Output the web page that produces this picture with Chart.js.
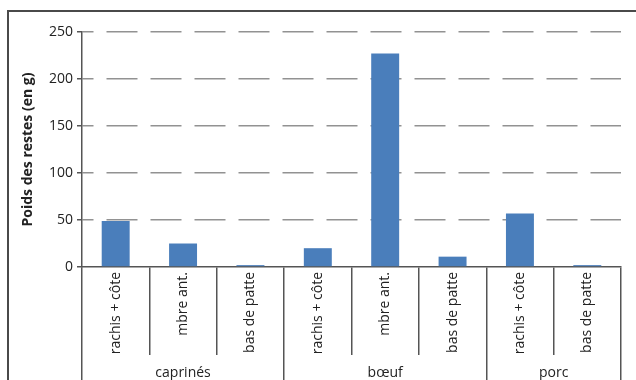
<!DOCTYPE html>
<html><head><meta charset="utf-8">
<script src="https://cdn.jsdelivr.net/npm/chart.js@4"></script>
<style>
html,body{margin:0;padding:0;background:#fff;overflow:hidden;}
#wrap{position:relative;width:636px;height:380px;}
#frame{position:absolute;left:7px;top:10px;width:640px;height:380px;border-top:2px solid #4a4a4a;border-left:2px solid #4a4a4a;}
canvas{position:absolute;left:0;top:0;}
</style></head><body>
<div id="wrap"><div id="frame"></div><canvas id="c" width="636" height="380"></canvas></div>
<script>
const subCategories = ['rachis + côte','mbre ant.','bas de patte','rachis + côte','mbre ant.','bas de patte','rachis + côte','bas de patte'];
const groupNames = ['caprinés','bœuf','porc'];
const groupSizes = [3,3,2];
const weights = [49,25,2,20,227,11,57,2];
const yTicks = [0,50,100,150,200,250];

const boundaries = [0];
groupSizes.forEach(s => boundaries.push(boundaries[boundaries.length-1] + s));
const midpoints = groupSizes.map((s,i) => boundaries[i] + s/2);
const groupTickValues = boundaries.concat(midpoints).sort((a,b)=>a-b);

const FONT = "'Open Sans', sans-serif";
const TXT = '#222';
const LINE = '#555';
const NONE = 'rgba(0,0,0,0)';

new Chart(document.getElementById('c'), {
  type: 'bar',
  data: {
    labels: subCategories,
    datasets: [{
      data: weights,
      backgroundColor: '#4a7ebb',
      borderWidth: 0,
      categoryPercentage: 1,
      barPercentage: 0.415
    }]
  },
  options: {
    responsive: false,
    animation: false,
    devicePixelRatio: 1,
    layout: { padding: { left: 0, top: 32, right: 15, bottom: 0 } },
    plugins: { legend: { display: false }, tooltip: { enabled: false } },
    scales: {
      y: {
        min: yTicks[0], max: yTicks[yTicks.length-1],
        afterBuildTicks: s => { s.ticks = yTicks.map(v => ({ value: v })); },
        afterFit: s => { s.width = 82; },
        ticks: { font: { family: FONT, size: 14 }, color: TXT, padding: 4 },
        grid: {
          color: c => (c.tick && c.tick.value === 0) ? NONE : '#929292',
          lineWidth: 1.5,
          tickColor: LINE,
          tickWidth: 1.5,
          tickLength: 5,
          tickBorderDash: [],
          tickBorderDashOffset: 0
        },
        border: { display: true, color: LINE, width: 1.5, dash: [31, 13], dashOffset: 20 },
        title: {
          display: true,
          text: 'Poids des restes (en g)',
          font: { family: FONT, size: 14, weight: 'bold' },
          color: TXT,
          padding: { top: 20, bottom: 0 }
        }
      },
      x: {
        position: 'bottom',
        afterFit: s => { s.height = 88; },
        ticks: {
          font: { family: FONT, size: 14 }, color: TXT,
          minRotation: 90, maxRotation: 90, autoSkip: false, padding: -83
        },
        grid: {
          offset: true,
          drawOnChartArea: false,
          drawTicks: true,
          tickLength: 88,
          color: LINE,
          lineWidth: 1.5
        },
        border: { display: true, color: LINE, width: 1.5 }
      },
      xg: {
        type: 'linear',
        position: 'bottom',
        offset: false,
        min: 0, max: subCategories.length,
        afterBuildTicks: s => { s.ticks = groupTickValues.map(v => ({ value: v })); },
        afterFit: s => { s.height = 25; },
        ticks: {
          font: { family: FONT, size: 14 }, color: TXT,
          autoSkip: false, minRotation: 0, maxRotation: 0, padding: -15,
          callback: v => { const i = midpoints.indexOf(v); return i >= 0 ? groupNames[i] : ''; }
        },
        grid: {
          offset: false,
          drawOnChartArea: false,
          drawTicks: true,
          tickLength: 25,
          color: LINE,
          lineWidth: 1.5,
          tickColor: c => (c.tick && boundaries.includes(c.tick.value)) ? LINE : NONE
        },
        border: { display: false }
      }
    }
  }
});
</script>
</body></html>
